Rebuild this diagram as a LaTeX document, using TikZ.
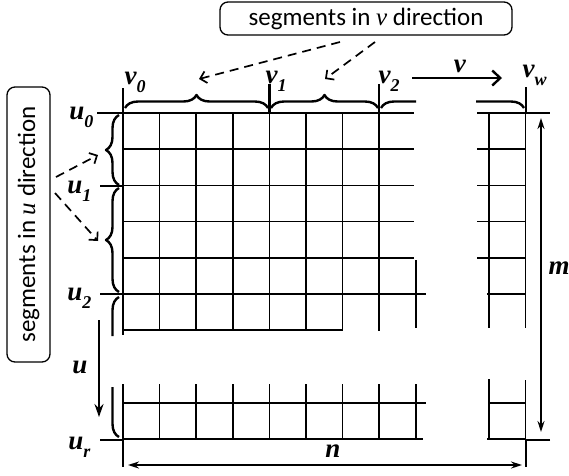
\documentclass[tikz,border=0pt]{standalone}
\usepackage{fontspec}
\setmainfont{Liberation Serif}
\newfontfamily\boxfont{Carlito}
\usetikzlibrary{arrows.meta,decorations.pathreplacing}
\newcommand{\lab}[2]{\textbf{\itshape #1\raisebox{-.32em}{\fontsize{18}{18}\selectfont #2}}}
\tikzset{
  gridline/.style={line width=1.5pt},
  tick/.style={line width=2.2pt},
  segbrace/.style={decorate,decoration={brace,amplitude=13pt},line width=2.4pt},
  segbox/.style={draw,rounded corners=8pt,line width=1.3pt,inner sep=0pt,
    font=\boxfont\fontsize{25}{25}\selectfont},
  hint/.style={dash pattern=on 9pt off 6pt,line width=1.7pt,-{Straight Barb[length=6pt,width=12pt]}},
  dim/.style={line width=1.6pt,{Stealth[length=11pt,width=7pt]}-{Stealth[length=11pt,width=7pt]}}
}
\begin{document}
\begin{tikzpicture}[x=1pt,y=-1pt,line join=round,font=\fontsize{27}{27}\selectfont]
            \useasboundingbox (0,0) rectangle (569,475);
            \foreach \k in {0,...,7}
            \draw[gridline] (123+36.6*\k,113)--(123+36.6*\k,331);
            \foreach \j in {0,...,4}
            \draw[gridline] (123,113+36.2*\j)--(414,113+36.2*\j);
            \draw[gridline] (123,294)--(426,294) (123,330.2)--(343,330.2) (415.8,260)--(415.8,328) (123,331)--(123,335);
            \foreach \j in {0,...,4}
            \draw[gridline] (477,113+36.2*\j)--(525.6,113+36.2*\j);
            \draw[gridline] (487,294)--(525.6,294) (489,113)--(489,328) (525.6,113)--(525.6,328);
            \foreach \k in {0,...,8}
            \draw[gridline] (123+36.6*\k,384)--(123+36.6*\k,439);
            \draw[gridline] (123,403)--(426,403) (123,439)--(423,439) (489,403)--(525.6,403) (487,439)--(525.6,439)
            (489,379)--(489,439) (525.6,380)--(525.6,439);
            \draw[tick] (97,113)--(123,113) (100,186)--(123,186) (100,294)--(123,294) (100,440)--(123,440)--(123,467);
            \draw[tick] (123,113)--(123,88) (269.4,113)--(269.4,84) (379,113)--(379,84)
            (525.6,87)--(525.6,113)--(550,113) (550,440)--(525.6,440)--(525.6,467);
            \draw[segbrace] (125,108)--(268,108);
            \draw[segbrace] (271,108)--(378,108);
            \draw[segbrace] (119,185)--(119,115);
            \draw[segbrace] (119,292)--(119,188);
            \begin{scope}
              \clip (370,80) rectangle (416,116) (476,80) rectangle (530,116);
              \draw[segbrace] (381,108)--(524,108);
            \end{scope}
            \begin{scope}
              \clip (95,296) rectangle (122,336) (95,387) rectangle (122,440);
              \draw[segbrace] (119,437)--(119,297);
            \end{scope}
            \node[segbox,minimum width=292pt,minimum height=33pt] (segv) at (366,18.5) {segments in {\rmfamily\itshape v} direction};
            \node[segbox,rotate=90,minimum width=275pt,minimum height=43pt] (segu) at (28.5,224.5) {segments in {\rmfamily\itshape u} direction};
            \node[anchor=base east] (u0) at (97,119) {\lab{u}{0}};
            \node[anchor=base east] (u1) at (95,193) {\lab{u}{1}};
            \node[anchor=base east] (u2) at (95,300) {\lab{u}{2}};
            \node[anchor=base east] (ur) at (94,449) {\lab{u}{r}};
            \node[anchor=base west] (v0) at (121,84) {\lab{v}{0}};
            \node[anchor=base west] (v1) at (262,83) {\lab{v}{1}};
            \node[anchor=base west] (v2) at (375,83) {\lab{v}{2}};
            \node[anchor=base west] (vw) at (519,77) {\lab{v}{w}};
            \node (vdir) at (460,66) {\textbf{\itshape v}};
            \node (udir) at (80,367) {\textbf{\itshape u}};
            \node (mlen) at (559,268) {\textbf{\itshape m}};
            \node (nlen) at (333,451) {\textbf{\itshape n}};
            \coordinate (hv1s) at (340,42);
            \coordinate (hv1e) at (199,79);
            \coordinate (hv2s) at (375,42);
            \coordinate (hv2e) at (325,79);
            \coordinate (hu1s) at (56,177);
            \coordinate (hu1e) at (98,155);
            \coordinate (hu2s) at (55,193);
            \coordinate (hu2e) at (98,241);
            \draw[hint] (hv1s)--(hv1e);
            \draw[hint] (hv2s)--(hv2e);
            \draw[hint] (hu1s)--(hu1e);
            \draw[hint] (hu2s)--(hu2e);
            \coordinate (va) at (412,78);
            \coordinate (vb) at (502,78);
            \coordinate (ua) at (99,320);
            \coordinate (ub) at (99,417);
            \draw[line width=2.4pt,-{Straight Barb[length=8pt,width=15pt]}] (va)--(vb);
            \draw[line width=2pt,-{Stealth[length=13pt,width=9pt]}] (ua)--(ub);
            \coordinate (ma) at (541,118);
            \coordinate (mb) at (541,432);
            \coordinate (na) at (128,465);
            \coordinate (nb) at (522,465);
            \draw[dim] (ma)--(mb);
            \draw[dim] (na)--(nb);
\end{tikzpicture}
\end{document}
